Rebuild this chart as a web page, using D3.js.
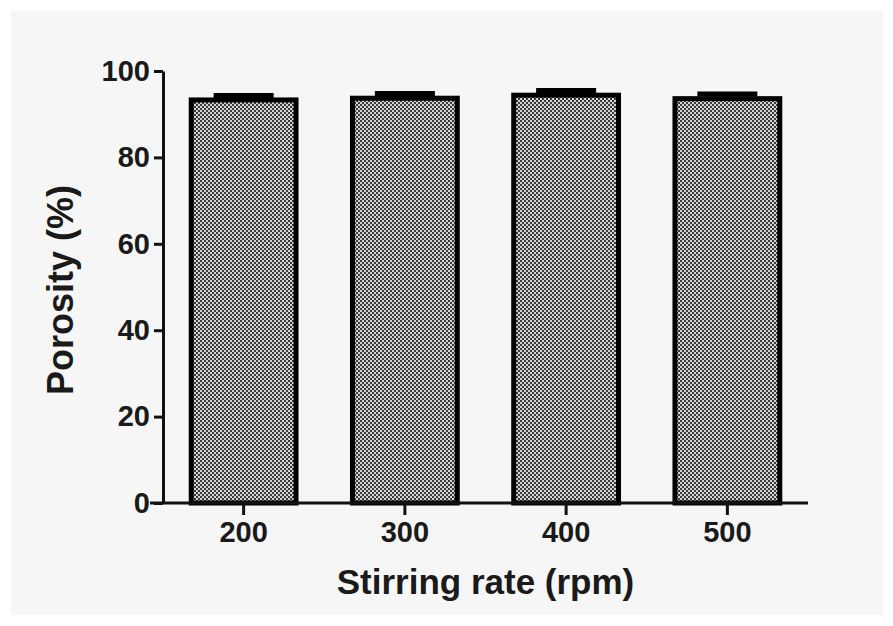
<!DOCTYPE html>
<html>
    <head>
        <meta charset="UTF-8">
        <title>Porosity vs stirring rate</title>
        <script src="https://d3js.org/d3.v7.min.js"></script>
        <style>
            body {
                margin:0;
                padding:0;
                background: #ffffff;
            }
            text {
                font-family: "Liberation Sans", Arial, sans-serif;
                font-weight: bold;
                fill: #1a1a1a;
            }
        </style>
    </head>
    <body>
        <div id="chart"></div>
        <script>
            // data
            var categories = ['200', '300', '400', '500'];
            var porosity = [93.3, 93.7, 94.4, 93.6];
            var errors = [1.0, 1.1, 1.1, 1.1];
            var yTicks = [0, 20, 40, 60, 80, 100];

            var svgWidth = 893, svgHeight = 626;
            var svg = d3.select('#chart').append('svg')
                .attr('width', svgWidth)
                .attr('height', svgHeight)
                .style('display', 'block');

            // light grey panel inside a thin white frame
            svg.append('rect')
                .attr('x', 11).attr('y', 11)
                .attr('width', 872).attr('height', 604)
                .attr('fill', '#f6f6f6');

            // dotted fill used by the bars
            var defs = svg.append('defs');
            var pat = defs.append('pattern')
                .attr('id', 'dots')
                .attr('width', 4).attr('height', 4)
                .attr('patternUnits', 'userSpaceOnUse');
            pat.append('rect').attr('width', 4).attr('height', 4).attr('fill', '#d4d4d4');
            pat.append('rect').attr('x', 0).attr('y', 0).attr('width', 2).attr('height', 2).attr('fill', '#3a3a3a');
            pat.append('rect').attr('x', 2).attr('y', 2).attr('width', 2).attr('height', 2).attr('fill', '#3a3a3a');

            // plot area edges (note: "top" is taken by window.top)
            var plotLeft = 163, plotRight = 808, plotTop = 71, plotBottom = 503;

            var x = d3.scaleBand()
                .domain(categories)
                .range([plotLeft, plotRight])
                .paddingInner(0.35)
                .paddingOuter(0.175);
            var y = d3.scaleLinear()
                .domain([0, 100])
                .range([plotBottom, plotTop]);

            var data = categories.map((c, i) => ({cat: c, value: porosity[i], err: errors[i]}));

            // bars
            svg.selectAll('.bar')
                .data(data)
                .enter().append('rect')
                .attr('class', 'bar')
                .attr('x', d => x(d.cat))
                .attr('y', d => y(d.value))
                .attr('width', x.bandwidth())
                .attr('height', d => y(0) - y(d.value))
                .attr('fill', 'url(#dots)')
                .attr('stroke', '#000')
                .attr('stroke-width', 5);

            // error bars (only the upper half shows above the bar)
            var capW = 60;
            svg.selectAll('.err')
                .data(data)
                .enter().append('line')
                .attr('class', 'err')
                .attr('x1', d => x(d.cat) + x.bandwidth() / 2)
                .attr('x2', d => x(d.cat) + x.bandwidth() / 2)
                .attr('y1', d => y(d.value))
                .attr('y2', d => y(d.value + d.err))
                .attr('stroke', '#000')
                .attr('stroke-width', 4);
            svg.selectAll('.cap')
                .data(data)
                .enter().append('line')
                .attr('class', 'cap')
                .attr('x1', d => x(d.cat) + x.bandwidth() / 2 - capW / 2)
                .attr('x2', d => x(d.cat) + x.bandwidth() / 2 + capW / 2)
                .attr('y1', d => y(d.value + d.err))
                .attr('y2', d => y(d.value + d.err))
                .attr('stroke', '#000')
                .attr('stroke-width', 5);

            // y axis
            var yAxis = svg.append('g')
                .attr('transform', `translate(${plotLeft}, 0)`)
                .call(d3.axisLeft(y).tickValues(yTicks).tickSize(9).tickSizeOuter(0).tickPadding(4));
            yAxis.select('.domain').attr('stroke', '#111').attr('stroke-width', 3);
            yAxis.selectAll('.tick line').attr('stroke', '#111').attr('stroke-width', 3);
            yAxis.selectAll('.tick text')
                .style('font-size', '29px')
                .style('font-family', '"Liberation Sans", Arial, sans-serif')
                .style('font-weight', 'bold')
                .attr('fill', '#1a1a1a');

            // x axis
            var xAxis = svg.append('g')
                .attr('transform', `translate(0, ${plotBottom})`)
                .call(d3.axisBottom(x).tickSize(12).tickSizeOuter(0).tickPadding(6));
            xAxis.select('.domain')
                .attr('d', `M${plotLeft - 13},0H${plotRight}`)
                .attr('stroke', '#111').attr('stroke-width', 3);
            xAxis.selectAll('.tick line').attr('stroke', '#111').attr('stroke-width', 3);
            xAxis.selectAll('.tick text')
                .style('font-size', '29px')
                .style('font-family', '"Liberation Sans", Arial, sans-serif')
                .style('font-weight', 'bold')
                .attr('fill', '#1a1a1a');

            // axis titles
            svg.append('text')
                .attr('x', (plotLeft + plotRight) / 2)
                .attr('y', 594)
                .attr('text-anchor', 'middle')
                .style('font-size', '35px')
                .text('Stirring rate (rpm)');
            svg.append('text')
                .attr('transform', 'translate(73, 290) rotate(-90)')
                .attr('text-anchor', 'middle')
                .style('font-size', '36px')
                .text('Porosity (%)');
        </script>
    </body>
</html>
